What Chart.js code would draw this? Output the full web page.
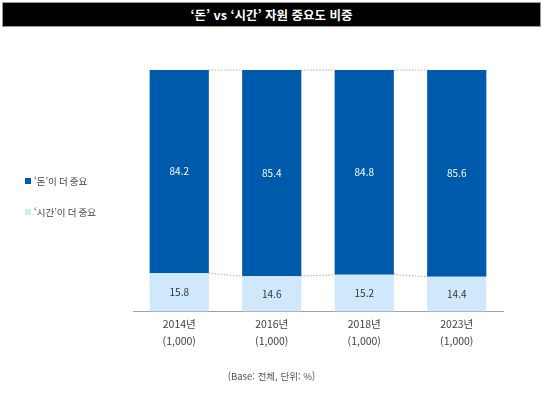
<!DOCTYPE html>
<html lang="ko">
<head>
    <meta charset="UTF-8">
    <title>돈 vs 시간 자원 중요도 비중</title>
    <style>
        body { margin: 0; background: #fff; font-family: "Noto Sans CJK KR", sans-serif; }
        .wrap { position: relative; width: 543px; height: 397px; }
        .title-bar {
            position: absolute; left: 2px; top: 2px; width: 537px; height: 23px;
            background: #000; border: 1px solid #999;
            color: #fff; font-weight: bold; font-size: 12.5px;
            text-align: center; line-height: 23px;
        }
        .note {
            position: absolute; left: 0; width: 543px; top: 369px;
            text-align: center; font-size: 9.5px; color: #555;
        }
    </style>
    <script src="https://cdn.jsdelivr.net/npm/chart.js"></script>
</head>
<body>
<div class="wrap">
    <canvas id="myChart" width="543" height="397"></canvas>
    <div class="title-bar">‘돈’ vs ‘시간’ 자원 중요도 비중</div>
    <div class="note">(Base: 전체, 단위: %)</div>
</div>
<script>
    // data
    const years = ['2014년', '2016년', '2018년', '2023년'];
    const bases = ['(1,000)', '(1,000)', '(1,000)', '(1,000)'];
    const moneyMore = [84.2, 85.4, 84.8, 85.6];
    const timeMore = [15.8, 14.6, 15.2, 14.4];
    const moneyLabel = '‘돈’이 더 중요';
    const timeLabel = '‘시간’이 더 중요';

    const darkBlue = '#005aab';
    const lightBlue = '#cfe8fc';
    const font = '"Noto Sans CJK KR", sans-serif';

    // dotted lines joining the bars at top and at the split
    const connectors = {
        id: 'connectors',
        beforeDatasetsDraw(chart) {
            const ctx = chart.ctx;
            ctx.save();
            ctx.strokeStyle = '#b0b0b0';
            ctx.lineWidth = 1;
            ctx.setLineDash([1.5, 1.5]);
            chart.data.datasets.forEach((ds, di) => {
                const bars = chart.getDatasetMeta(di).data;
                for (let i = 0; i < bars.length - 1; i++) {
                    const a = bars[i], b = bars[i + 1];
                    ctx.beginPath();
                    ctx.moveTo(a.x + a.width / 2, a.y);
                    ctx.lineTo(b.x - b.width / 2, b.y);
                    ctx.stroke();
                }
            });
            ctx.restore();
        }
    };

    // values inside the bars
    const barValues = {
        id: 'barValues',
        afterDatasetsDraw(chart) {
            const ctx = chart.ctx;
            ctx.save();
            ctx.font = '10px ' + font;
            ctx.textAlign = 'center';
            ctx.textBaseline = 'middle';
            chart.data.datasets.forEach((ds, di) => {
                chart.getDatasetMeta(di).data.forEach((bar, i) => {
                    ctx.fillStyle = di === 1 ? '#ffffff' : '#333333';
                    ctx.fillText(ds.data[i].toFixed(1), bar.x, (bar.y + bar.base) / 2);
                });
            });
            ctx.restore();
        }
    };

    // legend on the left, '돈' first
    const sideLegend = {
        id: 'sideLegend',
        afterDraw(chart) {
            const ctx = chart.ctx;
            const items = [chart.data.datasets[1], chart.data.datasets[0]];
            ctx.save();
            ctx.font = '9.5px ' + font;
            ctx.textBaseline = 'middle';
            items.forEach((ds, i) => {
                const y = 181 + i * 31;
                ctx.fillStyle = ds.backgroundColor;
                ctx.fillRect(25, y - 3, 6, 6);
                ctx.fillStyle = '#404040';
                ctx.fillText(ds.label, 34, y);
            });
            ctx.restore();
        }
    };

    const ctx = document.getElementById('myChart').getContext('2d');
    const myChart = new Chart(ctx, {
        type: 'bar',
        data: {
            labels: years.map((y, i) => [y, bases[i]]),
            datasets: [
                { label: timeLabel, data: timeMore, backgroundColor: lightBlue, barPercentage: 0.64, categoryPercentage: 1 },
                { label: moneyLabel, data: moneyMore, backgroundColor: darkBlue, barPercentage: 0.64, categoryPercentage: 1 }
            ]
        },
        options: {
            responsive: false,
            animation: false,
            layout: { padding: { left: 133, right: 40, top: 70, bottom: 44 } },
            plugins: {
                legend: { display: false },
                tooltip: { enabled: false }
            },
            scales: {
                x: {
                    stacked: true,
                    grid: { display: false, drawTicks: false },
                    border: { display: true, color: '#a0a0a0', width: 1 },
                    ticks: {
                        color: '#404040',
                        padding: 4,
                        font: { family: font, size: 10.5, lineHeight: 1.6 }
                    }
                },
                y: {
                    stacked: true,
                    display: false,
                    min: 0,
                    max: 100
                }
            }
        },
        plugins: [connectors, barValues, sideLegend]
    });
</script>
</body>
</html>
